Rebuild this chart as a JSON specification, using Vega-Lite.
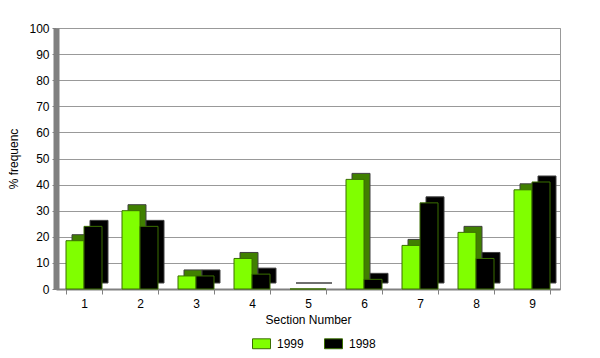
{
  "$schema": "https://vega.github.io/schema/vega-lite/v6.json",
  "width": 504,
  "height": 261,
  "autosize": {"type": "none"},
  "padding": {"left": 56, "top": 28, "right": 40, "bottom": 69},
  "background": "white",
  "config": {
    "font": "Liberation Sans",
    "view": {"stroke": "#999999", "strokeWidth": 1},
    "axis": {"labelFont": "Liberation Sans", "titleFont": "Liberation Sans", "labelColor": "#000", "titleColor": "#000", "labelFontSize": 12, "titleFontSize": 12, "titleFontWeight": "normal"},
    "legend": {"labelFont": "Liberation Sans", "labelFontSize": 12, "labelColor": "#000"}
  },
  "data": {
    "values": [
      {"section": "1", "year": "1999", "pct": 18.5},
      {"section": "1", "year": "1998", "pct": 24},
      {"section": "2", "year": "1999", "pct": 30},
      {"section": "2", "year": "1998", "pct": 24},
      {"section": "3", "year": "1999", "pct": 5},
      {"section": "3", "year": "1998", "pct": 5},
      {"section": "4", "year": "1999", "pct": 11.7},
      {"section": "4", "year": "1998", "pct": 5.7},
      {"section": "5", "year": "1999", "pct": 0},
      {"section": "5", "year": "1998", "pct": 0},
      {"section": "6", "year": "1999", "pct": 42},
      {"section": "6", "year": "1998", "pct": 3.7},
      {"section": "7", "year": "1999", "pct": 16.7},
      {"section": "7", "year": "1998", "pct": 33},
      {"section": "8", "year": "1999", "pct": 21.7},
      {"section": "8", "year": "1998", "pct": 11.7},
      {"section": "9", "year": "1999", "pct": 38},
      {"section": "9", "year": "1998", "pct": 41}
    ]
  },
  "encoding": {
    "x": {
      "field": "section", "type": "nominal",
      "scale": {"paddingInner": 0.357142857, "paddingOuter": 0.178571429},
      "axis": {"title": "Section Number", "labelAngle": 0, "ticks": true, "tickBand": "extent", "tickColor": "#808080", "domainColor": "#808080", "domainWidth": 2, "labelPadding": 4, "titlePadding": 5}
    },
    "y": {
      "field": "pct", "type": "quantitative",
      "scale": {"domain": [0, 100]},
      "axis": {"title": "% frequenc", "values": [0,10,20,30,40,50,60,70,80,90,100], "gridColor": "#999999", "domainColor": "#808080", "domainWidth": 6, "tickColor": "#808080", "tickSize": 4, "labelPadding": 3, "titlePadding": 8}
    }
  },
  "layer": [
    {
      "mark": {"type": "bar", "yOffset": -6, "strokeWidth": 1},
      "encoding": {
        "xOffset": {"field": "year", "type": "nominal", "sort": ["1999", "1998"], "scale": {"range": [6, 42]}},
        "color": {"field": "year", "type": "nominal", "sort": ["1999", "1998"], "scale": {"domain": ["1999", "1998"], "range": ["#408000", "#000000"]}, "legend": null},
        "stroke": {"value": "#404040"}
      }
    },
    {
      "mark": {"type": "bar", "strokeWidth": 1},
      "encoding": {
        "xOffset": {"field": "year", "type": "nominal", "sort": ["1999", "1998"], "scale": {"range": [0, 36]}},
        "color": {"field": "year", "type": "nominal", "sort": ["1999", "1998"], "scale": {"domain": ["1999", "1998"], "range": ["#80ff00", "#000000"]},
          "legend": {"title": null, "orient": "none", "legendX": 196, "legendY": 306, "direction": "horizontal", "symbolType": "M-1,-0.55H1V0.55H-1Z", "symbolSize": 324, "symbolStrokeColor": "#3a6f00", "symbolStrokeWidth": 1, "columnPadding": 18, "labelOffset": 6}},
        "stroke": {"value": "#3a6f00"}
      }
    }
  ],
  "resolve": {"scale": {"color": "independent", "xOffset": "independent"}, "legend": {"color": "independent"}}
}
